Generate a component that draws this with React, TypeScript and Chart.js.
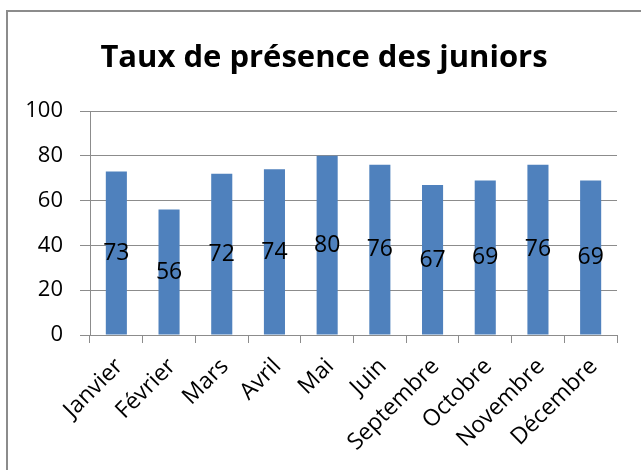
import React, { useEffect, useRef } from "react";
import { Chart, registerables } from "chart.js";

Chart.register(...registerables);

const title = "Taux de présence des juniors";
const categories = ["Janvier", "Février", "Mars", "Avril", "Mai", "Juin", "Septembre", "Octobre", "Novembre", "Décembre"];
const values = [73, 56, 72, 74, 80, 76, 67, 69, 76, 69];
const yTicks = [0, 20, 40, 60, 80, 100];

const FONT = "'Open Sans', 'DejaVu Sans', sans-serif";

const framePlugin = {
  id: "frame",
  beforeDraw(chart: any) {
    const ctx = chart.ctx;
    ctx.save();
    ctx.fillStyle = "#ffffff";
    ctx.fillRect(0, 0, chart.width, chart.height);
    ctx.strokeStyle = "#8c8c8c";
    ctx.lineWidth = 2;
    ctx.strokeRect(7, 11, 700, 520);
    ctx.fillStyle = "#000000";
    ctx.font = `bold 31px ${FONT}`;
    ctx.textAlign = "center";
    ctx.textBaseline = "alphabetic";
    ctx.fillText(title, 324, 67);
    ctx.restore();
  },
};

const labelPlugin = {
  id: "barLabels",
  afterDatasetsDraw(chart: any) {
    const ctx = chart.ctx;
    const meta = chart.getDatasetMeta(0);
    const yScale = chart.scales.y;
    ctx.save();
    ctx.fillStyle = "#000000";
    ctx.font = `23px ${FONT}`;
    ctx.textAlign = "center";
    ctx.textBaseline = "middle";
    meta.data.forEach((bar: any, i: number) => {
      const v = values[i];
      const y = yScale.getPixelForValue(v / 2);
      ctx.fillText(String(v), bar.x, y);
    });
    ctx.restore();
  },
};

export default function App() {
  const ref = useRef<HTMLCanvasElement | null>(null);
  useEffect(() => {
    if (!ref.current) return;
    const chart = new Chart(ref.current, {
      type: "bar",
      data: {
        labels: categories,
        datasets: [
          {
            data: values,
            backgroundColor: "#4f81bd",
            borderColor: "#4f81bd",
            borderWidth: 0,
            barPercentage: 0.8,
            categoryPercentage: 0.5,
          },
        ],
      },
      options: {
        responsive: false,
        animation: false,
        layout: { padding: { left: 0, top: 111, right: 24, bottom: 0 } },
        plugins: {
          legend: { display: false },
          title: { display: false },
          tooltip: { enabled: false },
        },
        scales: {
          x: {
            afterFit(scale: any) {
              scale.height = 135;
            },
            grid: {
              drawOnChartArea: false,
              drawTicks: true,
              tickLength: 8,
              color: "#8c8c8c",
              offset: true,
            },
            border: { color: "#8c8c8c", width: 1 },
            ticks: {
              minRotation: 45,
              maxRotation: 45,
              padding: 10,
              labelOffset: 3,
              color: "#000000",
              font: { family: FONT, size: 23 },
              autoSkip: false,
            },
          },
          y: {
            min: 0,
            max: 100,
            afterFit(scale: any) {
              scale.width = 90;
            },
            afterBuildTicks(scale: any) {
              scale.ticks = yTicks.map((v) => ({ value: v }));
            },
            grid: {
              color: "#8c8c8c",
              drawTicks: true,
              tickLength: 10,
            },
            border: { color: "#8c8c8c", width: 1 },
            ticks: {
              padding: 17,
              color: "#000000",
              font: { family: FONT, size: 22 },
            },
          },
        },
      },
      plugins: [framePlugin, labelPlugin],
    });
    return () => chart.destroy();
  }, []);
  return (
    <div style={{ position: "fixed", left: 0, top: 0, width: 641, height: 470, background: "#fff" }}>
      <canvas ref={ref} width={641} height={470} style={{ width: 641, height: 470, display: "block" }} />
    </div>
  );
}
